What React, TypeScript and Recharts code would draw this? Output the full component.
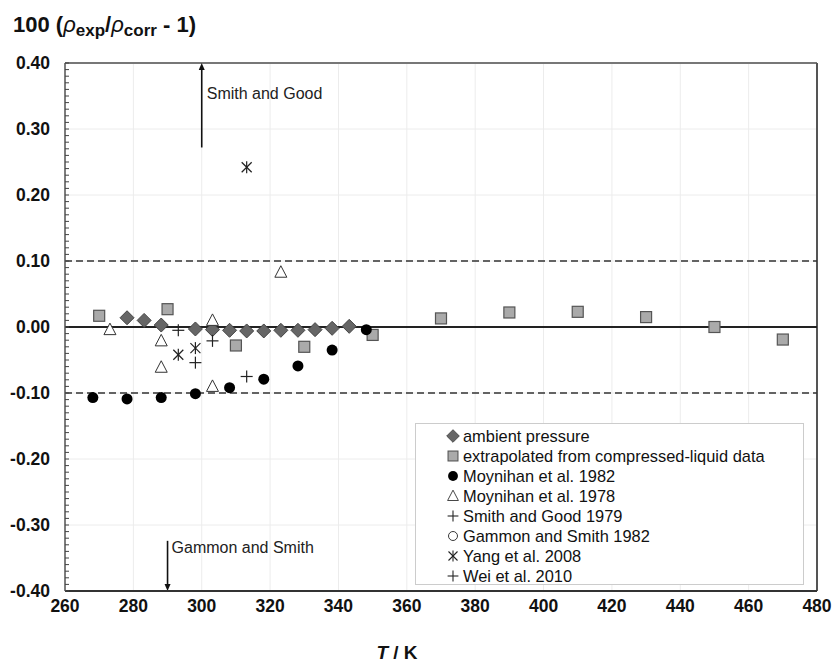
import React from 'react';
import {
  ScatterChart,
  Scatter,
  XAxis,
  YAxis,
  CartesianGrid,
  ReferenceLine,
  Legend
} from 'recharts';

// temperature (K) and deviation 100 (rho_exp/rho_corr - 1)
const ambientT = [278.15, 283.15, 288.15, 298.15, 303.15, 308.15, 313.15, 318.15, 323.15, 328.15, 333.15, 338.15, 343.15];
const ambientV = [0.014, 0.010, 0.003, -0.003, -0.004, -0.005, -0.006, -0.006, -0.005, -0.005, -0.004, -0.002, 0.001];

const extrapT = [270, 290, 310, 330, 350, 370, 390, 410, 430, 450, 470];
const extrapV = [0.017, 0.027, -0.028, -0.030, -0.012, 0.013, 0.022, 0.023, 0.015, 0.000, -0.019];

const moy82T = [268.15, 278.15, 288.15, 298.15, 308.15, 318.15, 328.15, 338.15, 348.15];
const moy82V = [-0.107, -0.109, -0.107, -0.101, -0.092, -0.079, -0.059, -0.035, -0.004];

const moy78T = [273.15, 288.15, 288.15, 303.15, 303.15, 323.15];
const moy78V = [-0.004, -0.021, -0.061, 0.010, -0.090, 0.083];

const smithT = [293.15];
const smithV = [-0.005];

const yangT = [293.15, 298.15, 313.15];
const yangV = [-0.042, -0.032, 0.242];

const weiT = [298.15, 303.15, 313.15];
const weiV = [-0.054, -0.021, -0.075];

const xTicks = [260, 280, 300, 320, 340, 360, 380, 400, 420, 440, 460, 480];
const yTicks = [-0.4, -0.3, -0.2, -0.1, 0, 0.1, 0.2, 0.3, 0.4];

const seriesNames = [
  'ambient pressure',
  'extrapolated from compressed-liquid data',
  'Moynihan et al. 1982',
  'Moynihan et al. 1978',
  'Smith and Good 1979',
  'Gammon and Smith 1982',
  'Yang et al. 2008',
  'Wei et al. 2010'
];

const toPoints = (xs: number[], ys: number[]) => xs.map((x, i) => ({ x, y: ys[i] }));

// minor ticks every 0.01 between the major ones
const yMinorTicks: number[] = [];
for (let i = 0; i < yTicks.length - 1; i++) {
  for (let k = 0; k < 10; k++) yMinorTicks.push(Math.round((yTicks[i] + k * 0.01) * 1000) / 1000);
}
yMinorTicks.push(yTicks[yTicks.length - 1]);

const FONT = '"Liberation Sans", Arial, sans-serif';

type Mk = 'diamond' | 'square' | 'circle' | 'triangle' | 'plus' | 'ring' | 'star';

const Marker = ({ kind, cx, cy }: { kind: Mk; cx: number; cy: number }) => {
  switch (kind) {
    case 'diamond':
      return <polygon points={`${cx},${cy - 7} ${cx + 7},${cy} ${cx},${cy + 7} ${cx - 7},${cy}`} fill="#666" stroke="#444" strokeWidth={1} />;
    case 'square':
      return <rect x={cx - 5.5} y={cy - 5.5} width={11} height={11} fill="#aaa" stroke="#555" strokeWidth={1.2} />;
    case 'circle':
      return <circle cx={cx} cy={cy} r={5.5} fill="#000" />;
    case 'triangle':
      return <polygon points={`${cx},${cy - 6.5} ${cx + 6},${cy + 5} ${cx - 6},${cy + 5}`} fill="#fff" stroke="#333" strokeWidth={1} />;
    case 'plus':
      return (
        <g stroke="#222" strokeWidth={1.2}>
          <line x1={cx - 6} y1={cy} x2={cx + 6} y2={cy} />
          <line x1={cx} y1={cy - 6} x2={cx} y2={cy + 6} />
        </g>
      );
    case 'ring':
      return <circle cx={cx} cy={cy} r={5} fill="#fff" stroke="#222" strokeWidth={1} />;
    case 'star':
      return (
        <g stroke="#222" strokeWidth={1.2}>
          <line x1={cx} y1={cy - 6} x2={cx} y2={cy + 6} />
          <line x1={cx - 5} y1={cy - 5} x2={cx + 5} y2={cy + 5} />
          <line x1={cx - 5} y1={cy + 5} x2={cx + 5} y2={cy - 5} />
        </g>
      );
  }
  return null;
};

const shapeOf = (kind: Mk) => (props: any) => <Marker kind={kind} cx={props.cx} cy={props.cy} />;

const legendKinds: Mk[] = ['diamond', 'square', 'circle', 'triangle', 'plus', 'ring', 'star', 'plus'];

const LegendBox = () => (
  <div
    style={{
      border: '1px solid #ccc',
      background: '#fff',
      boxSizing: 'border-box',
      width: 389,
      height: 162,
      padding: '2px 0 0 30px',
      fontFamily: FONT,
      fontSize: 16.4,
      color: '#111'
    }}
  >
    {seriesNames.map((name, i) => (
      <div key={name} style={{ display: 'flex', alignItems: 'center', height: 20 }}>
        <svg width={14} height={14} style={{ marginRight: 3 }}>
          <g transform="translate(7,7) scale(0.9) translate(-7,-7)">
            <Marker kind={legendKinds[i]} cx={7} cy={7} />
          </g>
        </svg>
        <span>{name}</span>
      </div>
    ))}
  </div>
);

const YTick = (props: any) => {
  const { x, y, payload } = props;
  const v = payload.value;
  const major = Math.abs(v * 10 - Math.round(v * 10)) < 1e-6;
  const edge = x + 15;
  return (
    <g>
      <line x1={edge} y1={y} x2={edge + 4} y2={y} stroke="#444" strokeWidth={1} />
      {major && (
        <text x={x} y={y} dy={6} textAnchor="end" fontFamily={FONT} fontSize={17.5} fontWeight="bold" fill="#111">
          {v.toFixed(2)}
        </text>
      )}
    </g>
  );
};

const ArrowUp = (label: string) => (props: any) => {
  const { x1, y1, y2 } = props;
  const top = Math.min(y1, y2);
  const bottom = Math.max(y1, y2);
  return (
    <g>
      <line x1={x1} y1={bottom} x2={x1} y2={top + 6} stroke="#111" strokeWidth={1.6} />
      <polygon points={`${x1},${top} ${x1 + 3},${top + 7} ${x1 - 3},${top + 7}`} fill="#111" />
      <text x={x1 + 5} y={top + 36} fontFamily={FONT} fontSize={16} fill="#222">{label}</text>
    </g>
  );
};

const ArrowDown = (label: string) => (props: any) => {
  const { x1, y1, y2 } = props;
  const top = Math.min(y1, y2);
  const bottom = Math.max(y1, y2);
  return (
    <g>
      <line x1={x1} y1={top} x2={x1} y2={bottom - 6} stroke="#111" strokeWidth={1.6} />
      <polygon points={`${x1},${bottom} ${x1 + 3},${bottom - 7} ${x1 - 3},${bottom - 7}`} fill="#111" />
      <text x={x1 + 4} y={top + 12} fontFamily={FONT} fontSize={16} fill="#222">{label}</text>
    </g>
  );
};

const XLabel = (props: any) => {
  const { viewBox } = props;
  return (
    <text x={viewBox.x + 332} y={viewBox.y + 68} textAnchor="middle" fontFamily={FONT} fontSize={19} fontWeight="bold" fill="#111">
      <tspan fontStyle="italic">T</tspan>
      <tspan> / K</tspan>
    </text>
  );
};

export default function App() {
  return (
    <div style={{ position: 'absolute', left: 0, top: 0, width: 834, height: 666, background: '#fff' }}>
      <div
        style={{
          position: 'absolute',
          left: 13,
          top: 12,
          fontFamily: FONT,
          fontWeight: 'bold',
          fontSize: 22,
          lineHeight: '25px',
          color: '#111',
          whiteSpace: 'nowrap',
          zIndex: 2
        }}
      >
        100 (<i style={{ fontWeight: 'normal' }}>ρ</i>
        <span style={{ fontSize: 17, verticalAlign: -4 }}>exp</span>/<i style={{ fontWeight: 'normal' }}>ρ</i>
        <span style={{ fontSize: 17, verticalAlign: -4 }}>corr</span> - 1)
      </div>
      <ScatterChart width={834} height={666} margin={{ top: 63, right: 17, bottom: 0, left: 0 }}>
        <CartesianGrid
          stroke="#ececec"
          horizontalValues={yTicks}
          verticalValues={xTicks}
        />
        <XAxis
          type="number"
          dataKey="x"
          domain={[260, 480]}
          ticks={xTicks}
          interval={0}
          height={75}
          tickLine={false}
          tickSize={0}
          tickMargin={9}
          axisLine={{ stroke: '#333', strokeWidth: 2 }}
          tick={{ fontFamily: FONT, fontSize: 17.5, fontWeight: 'bold', fill: '#111' }}
          label={<XLabel />}
        />
        <YAxis
          type="number"
          dataKey="y"
          domain={[-0.4, 0.4]}
          ticks={yMinorTicks}
          interval={0}
          width={65}
          tickLine={false}
          tickSize={0}
          tickMargin={15}
          axisLine={{ stroke: '#555', strokeWidth: 1.5 }}
          tick={<YTick />}
        />
        <ReferenceLine y={0.4} stroke="#777" strokeWidth={2} />
        <ReferenceLine x={480} stroke="#555" strokeWidth={2} />
        <ReferenceLine y={0.1} stroke="#333" strokeWidth={1.3} strokeDasharray="7 4" />
        <ReferenceLine y={-0.1} stroke="#333" strokeWidth={1.3} strokeDasharray="7 4" />
        <ReferenceLine y={0} stroke="#222" strokeWidth={2} />
        <ReferenceLine
          segment={[{ x: 300, y: 0.272 }, { x: 300, y: 0.4 }]}
          shape={ArrowUp('Smith and Good')}
        />
        <ReferenceLine
          segment={[{ x: 290, y: -0.324 }, { x: 290, y: -0.4 }]}
          shape={ArrowDown('Gammon and Smith')}
        />
        <Scatter name={seriesNames[0]} data={toPoints(ambientT, ambientV)} shape={shapeOf('diamond')} isAnimationActive={false} />
        <Scatter name={seriesNames[1]} data={toPoints(extrapT, extrapV)} shape={shapeOf('square')} isAnimationActive={false} />
        <Scatter name={seriesNames[2]} data={toPoints(moy82T, moy82V)} shape={shapeOf('circle')} isAnimationActive={false} />
        <Scatter name={seriesNames[3]} data={toPoints(moy78T, moy78V)} shape={shapeOf('triangle')} isAnimationActive={false} />
        <Scatter name={seriesNames[4]} data={toPoints(smithT, smithV)} shape={shapeOf('plus')} isAnimationActive={false} />
        <Scatter name={seriesNames[6]} data={toPoints(yangT, yangV)} shape={shapeOf('star')} isAnimationActive={false} />
        <Scatter name={seriesNames[7]} data={toPoints(weiT, weiV)} shape={shapeOf('plus')} isAnimationActive={false} />
        <Legend
          layout="vertical"
          align="center"
          verticalAlign="middle"
          content={<LegendBox />}
          wrapperStyle={{ left: 415, top: 423, width: 389, height: 162 }}
        />
      </ScatterChart>
    </div>
  );
}
